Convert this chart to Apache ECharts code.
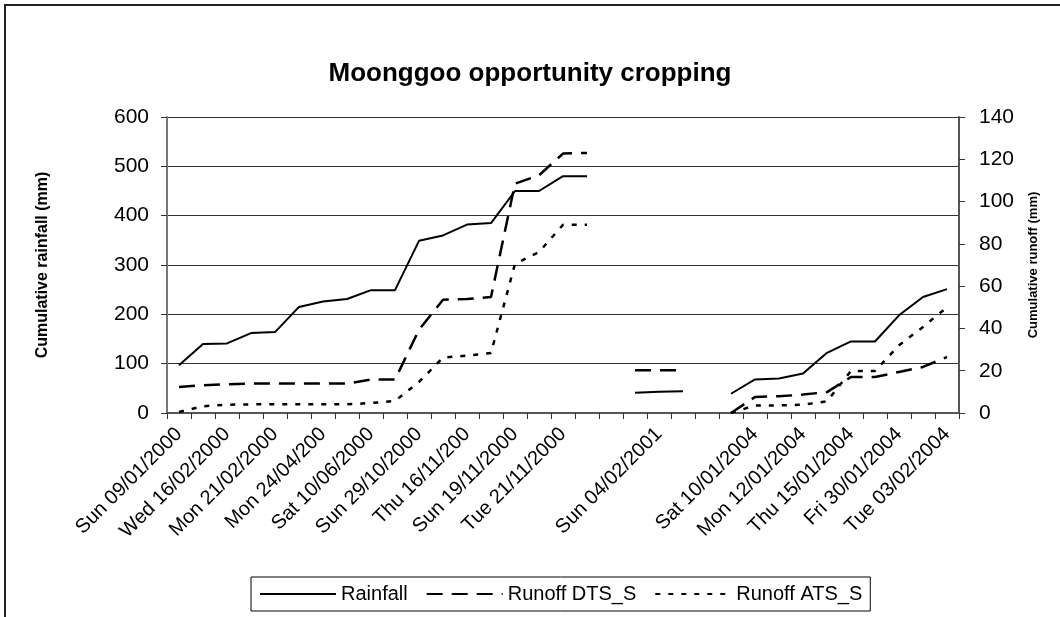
<!DOCTYPE html>
<html>
<head>
<meta charset="utf-8">
<script src="https://cdn.jsdelivr.net/npm/echarts@6/dist/echarts.min.js"></script>
<style>
html,body{margin:0;padding:0;background:#fff;}
#chart{width:1060px;height:617px;}
</style>
</head>
<body>
<div id="chart"></div>
<script>
// Category labels (odd positions are not shown in the reference; blanks separate the periods)
const categories = [
  'Sun 09/01/2000','', 'Wed 16/02/2000','', 'Mon 21/02/2000','', 'Mon 24/04/200','',
  'Sat 10/06/2000','', 'Sun 29/10/2000','', 'Thu 16/11/200','', 'Sun 19/11/2000','',
  'Tue 21/11/2000','', '','', 'Sun 04/02/2001','', '','', 'Sat 10/01/2004','',
  'Mon 12/01/2004','', 'Thu 15/01/2004','', 'Fri 30/01/2004','', 'Tue 03/02/2004'
];
// Cumulative rainfall (mm), left axis
const rainfall = [97,140,141,162,164,215,226,231,249,249,349,360,382,385,450,450,480,480,
  null, 41,43,44, null, 39,68,70,80,122,145,145,198,235,251];
// Cumulative runoff DTS_S (mm), right axis
const runoffDTS = [12.3,13.1,13.6,13.9,13.9,13.9,13.9,13.9,15.8,15.8,39.4,53.6,53.9,54.9,108.5,112.4,122.7,123,
  null, 20.2,20.2,20.2, null, 0,7.6,7.9,8.7,9.9,17,17,19.4,21.8,26.5];
// Cumulative runoff ATS_S (mm), right axis
const runoffATS = [0.5,3.2,3.9,4.1,4.1,4.1,4.1,4.1,4.7,5.7,14.7,26.2,27.1,28.4,70.6,76.1,89,89,
  null, null,null,null, null, 0,3.6,3.6,3.9,5.5,19.9,19.9,32,40.7,50];
const leftTicks = {min:0, max:600, interval:100};
const rightTicks = {min:0, max:140, interval:20};

const FONT = 'Liberation Sans, Arial, sans-serif';
const chart = echarts.init(document.getElementById('chart'), null, {renderer:'canvas'});
chart.setOption({
  animation:false,
  backgroundColor:'#fff',
  textStyle:{fontFamily:FONT, color:'#000'},
  title:{
    text:'Moonggoo opportunity cropping',
    left:'center', top:56,
    textStyle:{fontFamily:FONT, fontSize:26, fontWeight:'bold', color:'#000'}
  },
  graphic:[{
    type:'rect', shape:{x:5, y:5, width:1200, height:800},
    style:{fill:'none', stroke:'#222', lineWidth:2}, silent:true
  }],
  legend:{
    left:251, top:577,
    padding:[7,8],
    itemGap:18, itemWidth:76, itemHeight:14,
    borderColor:'#000', borderWidth:1,
    itemStyle:{opacity:0},
    textStyle:{fontFamily:FONT, fontSize:20, color:'#000'},
    data:['Rainfall','Runoff DTS_S','Runoff ATS_S']
  },
  grid:{left:167, right:101, top:117, bottom:204, containLabel:false},
  xAxis:{
    type:'category', data:categories, boundaryGap:true,
    axisLine:{lineStyle:{color:'#555', width:2}},
    axisTick:{show:true, interval:0, length:6, lineStyle:{color:'#333', width:1}},
    axisLabel:{interval:1, rotate:45, margin:18, fontSize:20, fontFamily:FONT, color:'#000'},
    splitLine:{show:false}
  },
  yAxis:[{
    type:'value', position:'left', min:leftTicks.min, max:leftTicks.max, interval:leftTicks.interval,
    name:'Cumulative rainfall (mm)', nameLocation:'middle', nameGap:116,
    nameTextStyle:{fontFamily:FONT, fontSize:16, fontWeight:'bold', color:'#000'},
    axisLine:{show:true, lineStyle:{color:'#777', width:2}},
    axisTick:{show:true, length:6, lineStyle:{color:'#333'}},
    axisLabel:{margin:18, fontSize:21, fontFamily:FONT, color:'#000'},
    splitLine:{show:true, lineStyle:{color:'#333', width:1}}
  },{
    type:'value', position:'right', min:rightTicks.min, max:rightTicks.max, interval:rightTicks.interval,
    name:'Cumulative runoff (mm)', nameLocation:'middle', nameGap:68, nameRotate:90,
    nameTextStyle:{fontFamily:FONT, fontSize:13, fontWeight:'bold', color:'#000'},
    axisLine:{show:true, lineStyle:{color:'#555', width:2}},
    axisTick:{show:true, length:6, lineStyle:{color:'#333'}},
    axisLabel:{margin:20, fontSize:21, fontFamily:FONT, color:'#000'},
    splitLine:{show:false}
  }],
  series:[{
    name:'Rainfall', type:'line', yAxisIndex:0, data:rainfall,
    symbol:'none', connectNulls:false,
    lineStyle:{color:'#000', width:2, type:'solid'}, itemStyle:{color:'#000'}
  },{
    name:'Runoff DTS_S', type:'line', yAxisIndex:1, data:runoffDTS,
    symbol:'none', connectNulls:false,
    lineStyle:{color:'#000', width:2.5, type:[16,9]}, itemStyle:{color:'#000'}
  },{
    name:'Runoff ATS_S', type:'line', yAxisIndex:1, data:runoffATS,
    symbol:'none', connectNulls:false,
    lineStyle:{color:'#000', width:2.5, type:[5,8]}, itemStyle:{color:'#000'}
  }]
});
</script>
</body>
</html>
